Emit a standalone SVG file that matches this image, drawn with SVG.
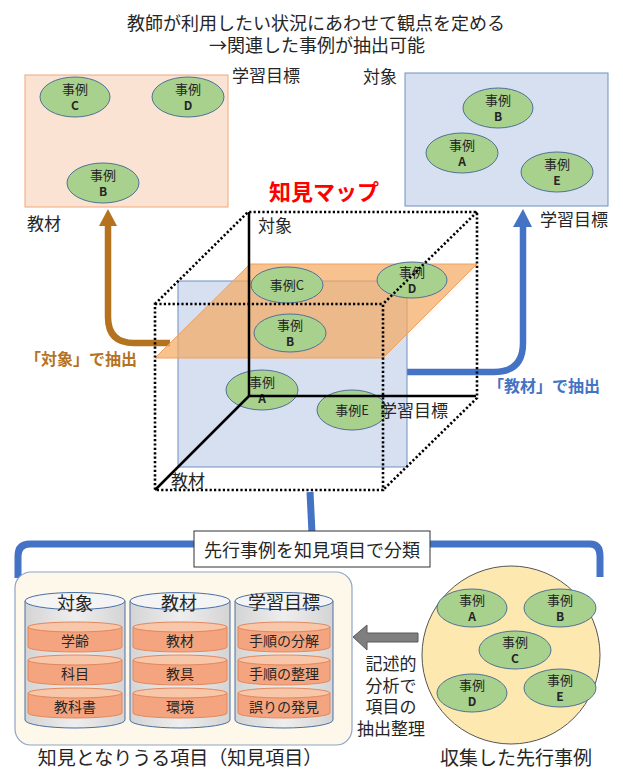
<svg xmlns="http://www.w3.org/2000/svg" width="623" height="769" viewBox="0 0 623 769">
<defs>
<style>
text{font-family:"Noto Sans CJK JP","Noto Sans",sans-serif;fill:#262626}
.ell{fill:#a9d18e;stroke:#4f7196;stroke-width:1}
.e1{font-size:13px;text-anchor:middle}
.e2{font-size:12px;font-weight:bold}
.lbl{font-size:17px}
.dot{fill:none;stroke:#000;stroke-width:2.6;stroke-dasharray:2.2 2.2}
.axis{fill:none;stroke:#000;stroke-width:2.5}
.cyl{fill:url(#gray);stroke:#4a6fa5;stroke-width:1}
.cyltop{fill:#f4f4f4;stroke:#4a6fa5;stroke-width:1}
.disk{fill:#f4a57f;stroke:#e2875c;stroke-width:1}
.disktop{fill:#f8c6a8;stroke:#e2875c;stroke-width:1}
.dt{font-size:14px;text-anchor:middle}
.ch{font-size:18px;text-anchor:middle}
</style>
<linearGradient id="gray" x1="0" y1="0" x2="1" y2="0">
<stop offset="0" stop-color="#d4d4d4"/><stop offset="0.5" stop-color="#eeeeee"/><stop offset="1" stop-color="#d4d4d4"/>
</linearGradient>
</defs>

<g id="title">
<text x="316" y="30" font-size="18" text-anchor="middle">教師が利用したい状況にあわせて観点を定める<tspan x="317" dy="22">→関連した事例が抽出可能</tspan></text>
</g>

<g id="panel-left">
<rect x="25" y="75" width="203" height="132" fill="#fbe3d4" stroke="#f0a878" stroke-width="1"/>
<ellipse class="ell" cx="75" cy="97" rx="35" ry="20"/>
<text class="e1" x="75" y="94">事例<tspan class="e2" x="75" dy="16">C</tspan></text>
<ellipse class="ell" cx="188" cy="97" rx="36" ry="20"/>
<text class="e1" x="188" y="94">事例<tspan class="e2" x="188" dy="16">D</tspan></text>
<ellipse class="ell" cx="103" cy="183" rx="36" ry="20"/>
<text class="e1" x="103" y="180">事例<tspan class="e2" x="103" dy="16">B</tspan></text>
<text class="lbl" x="232" y="82">学習目標</text>
<text class="lbl" x="27" y="230">教材</text>
</g>

<g id="panel-right">
<rect x="405" y="73" width="203" height="133" fill="#d7e0f1" stroke="#6f8fbf" stroke-width="1"/>
<ellipse class="ell" cx="498" cy="108" rx="35" ry="20"/>
<text class="e1" x="498" y="105">事例<tspan class="e2" x="498" dy="16">B</tspan></text>
<ellipse class="ell" cx="462" cy="153" rx="36" ry="20"/>
<text class="e1" x="462" y="150">事例<tspan class="e2" x="462" dy="16">A</tspan></text>
<ellipse class="ell" cx="557" cy="172" rx="36" ry="20"/>
<text class="e1" x="557" y="169">事例<tspan class="e2" x="557" dy="16">E</tspan></text>
<text class="lbl" x="363" y="83">対象</text>
<text class="lbl" x="540" y="226">学習目標</text>
</g>

<g id="map-title">
<text x="324" y="200" font-size="22" font-weight="bold" text-anchor="middle" style="fill:#ff0000">知見マップ</text>
</g>

<g id="connectors">
<path d="M170,343 H134 Q108,343 108,317 V224" fill="none" stroke="#b5721f" stroke-width="6.5"/>
<polygon points="99,226 117,226 108,209" fill="#b5721f"/>
<path d="M407,372 H494 Q523,372 523,343 V225" fill="none" stroke="#4472c4" stroke-width="6.5"/>
<polygon points="513,227 532,227 523,209" fill="#4472c4"/>
<path d="M310,492 L312,533" fill="none" stroke="#4472c4" stroke-width="7"/>
<path d="M18,578 V556 Q18,544 30,544 H590 Q600,544 600,556 V577" fill="none" stroke="#4472c4" stroke-width="7"/>
<polygon points="353,637 367,625 367,633 418,633 418,642 367,642 367,650" fill="#7f7f7f" stroke="#5a5a5a" stroke-width="1"/>
</g>

<g id="map">
<rect x="178" y="281" width="229" height="186" fill="#d7e0f1" stroke="#6f8fbf" stroke-width="1"/>
<polygon points="250,264 477,264 383,358 155,358" fill="#f5a860" fill-opacity="0.7" stroke="#f0a060" stroke-width="1"/>
<ellipse class="ell" cx="287" cy="285" rx="36" ry="18"/>
<text class="e1" x="287" y="290">事例C</text>
<ellipse class="ell" cx="412" cy="280" rx="35" ry="18"/>
<text class="e1" x="412" y="277">事例<tspan class="e2" x="412" dy="16">D</tspan></text>
<ellipse class="ell" cx="290" cy="333" rx="36" ry="19"/>
<text class="e1" x="290" y="330">事例<tspan class="e2" x="290" dy="16">B</tspan></text>
<ellipse class="ell" cx="262" cy="390" rx="36" ry="20"/>
<text class="e1" x="262" y="387">事例<tspan class="e2" x="262" dy="16">A</tspan></text>
<ellipse class="ell" cx="352" cy="410" rx="35" ry="20"/>
<text class="e1" x="352" y="415">事例E</text>
<path class="dot" d="M155,304 H383 V490 H155 Z M155,304 L248,212 H477 V398 L383,490 M477,212 L383,304"/>
<path class="axis" d="M249,212 V396 H476 M249,396 L155,490"/>
<text class="lbl" x="258" y="232">対象</text>
<text class="lbl" x="380" y="417">学習目標</text>
<text class="lbl" x="171" y="487">教材</text>
</g>

<g id="extract-labels">
<text x="25" y="365" font-size="16" font-weight="bold" style="fill:#b5721f">「対象」で抽出</text>
<text x="488" y="392" font-size="16" font-weight="bold" style="fill:#4472c4">「教材」で抽出</text>
</g>

<g id="classify-box">
<rect x="194" y="531" width="236" height="36" fill="#ffffff" stroke="#333" stroke-width="1"/>
<text x="312" y="557" font-size="18" text-anchor="middle">先行事例を知見項目で分類</text>
</g>

<g id="items">
<rect x="15" y="572" width="337" height="173" rx="16" fill="#fdf8ea" stroke="#8ea3c6" stroke-width="1.2"/>
<path class="cyl" d="M25,601 V720 A50,8 0 0 0 125,720 V601 Z"/>
<ellipse class="cyltop" cx="75" cy="601" rx="50" ry="8.5"/>
<text class="ch" x="75" y="610">対象</text>
<path class="disk" d="M28,627 V647 A47,5 0 0 0 122,647 V627 Z"/><ellipse class="disktop" cx="75" cy="627" rx="47" ry="5"/>
<text class="dt" x="75" y="646">学齢</text>
<path class="disk" d="M28,660 V680 A47,5 0 0 0 122,680 V660 Z"/><ellipse class="disktop" cx="75" cy="660" rx="47" ry="5"/>
<text class="dt" x="75" y="679">科目</text>
<path class="disk" d="M28,693 V713 A47,5 0 0 0 122,713 V693 Z"/><ellipse class="disktop" cx="75" cy="693" rx="47" ry="5"/>
<text class="dt" x="75" y="712">教科書</text>
<path class="cyl" d="M130,601 V720 A50,8 0 0 0 230,720 V601 Z"/>
<ellipse class="cyltop" cx="180" cy="601" rx="50" ry="8.5"/>
<text class="ch" x="179" y="610">教材</text>
<path class="disk" d="M133,627 V647 A47,5 0 0 0 227,647 V627 Z"/><ellipse class="disktop" cx="180" cy="627" rx="47" ry="5"/>
<text class="dt" x="180" y="646">教材</text>
<path class="disk" d="M133,660 V680 A47,5 0 0 0 227,680 V660 Z"/><ellipse class="disktop" cx="180" cy="660" rx="47" ry="5"/>
<text class="dt" x="180" y="679">教具</text>
<path class="disk" d="M133,693 V713 A47,5 0 0 0 227,713 V693 Z"/><ellipse class="disktop" cx="180" cy="693" rx="47" ry="5"/>
<text class="dt" x="180" y="712">環境</text>
<path class="cyl" d="M235,601 V720 A49,8 0 0 0 333,720 V601 Z"/>
<ellipse class="cyltop" cx="284" cy="601" rx="49" ry="8.5"/>
<text class="ch" x="284" y="609">学習目標</text>
<path class="disk" d="M238,627 V647 A46,5 0 0 0 330,647 V627 Z"/><ellipse class="disktop" cx="284" cy="627" rx="46" ry="5"/>
<text class="dt" x="284" y="646">手順の分解</text>
<path class="disk" d="M238,660 V680 A46,5 0 0 0 330,680 V660 Z"/><ellipse class="disktop" cx="284" cy="660" rx="46" ry="5"/>
<text class="dt" x="284" y="679">手順の整理</text>
<path class="disk" d="M238,693 V713 A46,5 0 0 0 330,713 V693 Z"/><ellipse class="disktop" cx="284" cy="693" rx="46" ry="5"/>
<text class="dt" x="284" y="712">誤りの発見</text>
<text x="180" y="765" font-size="19" text-anchor="middle">知見となりうる項目（知見項目）</text>
</g>

<g id="analysis-label">
<text x="391" y="670" font-size="17" text-anchor="middle">記述的<tspan x="391" dy="21.5">分析で</tspan><tspan x="391" dy="21.5">項目の</tspan><tspan x="391" dy="21.5">抽出整理</tspan></text>
</g>

<g id="cases">
<circle cx="511" cy="655" r="89" fill="#fde9b0" stroke="#555" stroke-width="1"/>
<ellipse class="ell" cx="472" cy="608" rx="35" ry="19"/>
<text class="e1" x="472" y="605">事例<tspan class="e2" x="472" dy="16">A</tspan></text>
<ellipse class="ell" cx="560" cy="608" rx="36" ry="19"/>
<text class="e1" x="560" y="605">事例<tspan class="e2" x="560" dy="16">B</tspan></text>
<ellipse class="ell" cx="515" cy="650" rx="36" ry="19"/>
<text class="e1" x="515" y="647">事例<tspan class="e2" x="515" dy="16">C</tspan></text>
<ellipse class="ell" cx="472" cy="693" rx="35" ry="19"/>
<text class="e1" x="472" y="690">事例<tspan class="e2" x="472" dy="16">D</tspan></text>
<ellipse class="ell" cx="560" cy="688" rx="36" ry="19"/>
<text class="e1" x="560" y="685">事例<tspan class="e2" x="560" dy="16">E</tspan></text>
<text x="516" y="765" font-size="19" text-anchor="middle">収集した先行事例</text>
</g>
</svg>
